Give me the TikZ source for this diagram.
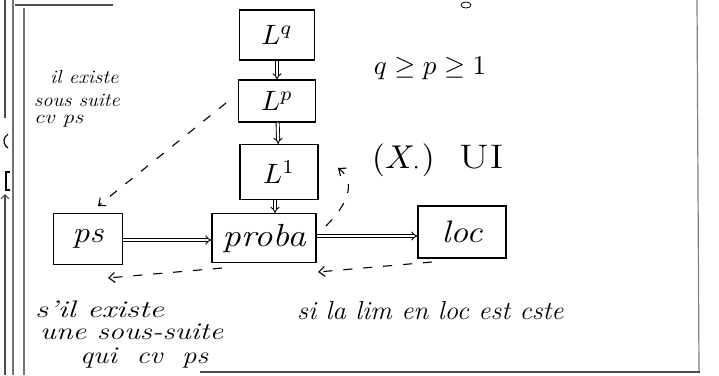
\documentclass[tikz,border=0pt]{standalone}
\usepackage{graphicx}
\usepackage{fontspec}
\usetikzlibrary{arrows.meta}
\newcommand{\wide}[2]{\scalebox{#1}[1]{#2}}
\tikzset{
  box/.style={draw, line width=1.1pt, inner sep=0pt},
  imp/.style={double, double distance=2.2pt, line width=0.9pt, -{Implies}},
  dasharr/.style={dashed, dash pattern=on 9pt off 11pt, line width=1.1pt, -{Straight Barb[length=6pt,width=10pt]}},
  hand/.style={font=\itshape\fontsize{24}{26}\selectfont, inner sep=0pt, anchor=west},
  handsmall/.style={font=\itshape\fontsize{19}{21}\selectfont, inner sep=0pt, anchor=west},
  frame/.style={line width=1.2pt, black!70},
}
\begin{document}
\begin{tikzpicture}[x=1pt,y=-1pt]
\useasboundingbox (0,0) rectangle (719,375);
% frame lines (scan borders)
\draw[frame, line width=2pt, black!55] (13,0) -- (13,375);
\draw[frame, line width=2pt, black!55] (24,8) -- (24,375);
\draw[frame] (5,0) -- (5,118);
\draw[frame] (15,5) -- (113,5);
\draw[frame, -{Straight Barb[length=4pt]}] (5,375) -- (5,194);
\draw[frame, black] (8,148) arc[start angle=-60, end angle=60, radius=-8];
\draw[frame, black] (10,172) -- (6,172) -- (6,190) -- (10,190);
\draw[frame, black!50] (697,0) -- (699,372);
\draw[frame] (200,372) -- (700,372);
\draw[line width=0.8pt] (466,5) ellipse[x radius=5, y radius=3];
% boxes
\node[box, minimum width=75, minimum height=50] (Lq) at (277,35) {\scalebox{2.8}{$L^q$}};
\node[box, minimum width=77, minimum height=42] (Lp) at (277,101) {\scalebox{2.8}{$L^p$}};
\node[box, minimum width=78, minimum height=55] (L1) at (279,172) {\scalebox{2.8}{$L^1$}};
\node[box, minimum width=104, minimum height=49] (proba) at (264,238) {\itshape\fontsize{32}{32}\selectfont\wide{1.15}{proba}};
\node[box, minimum width=69, minimum height=51] (ps) at (88,239) {\itshape\fontsize{30}{30}\selectfont\wide{1.15}{ps}};
\node[box, minimum width=88, minimum height=52] (loc) at (462,232) {\itshape\fontsize{31}{31}\selectfont\wide{1.15}{loc}};
% solid arrows
\draw[imp] (Lq) -- (Lp);
\draw[imp] (Lp) -- (L1);
\draw[imp] (L1.south) ++(-4,0) coordinate (l1s) -- (l1s |- proba.north);
\draw[imp] (ps.east) ++(0,1) coordinate (pse) -- (pse -| proba.west);
\draw[imp] (proba.east) ++(0,-2) coordinate (pbe) -- (pbe -| loc.west);
% dashed arrows
\coordinate (lpw) at (226,103);
\coordinate (pst) at (98,206);
\draw[dasharr] (lpw) -- (pst);
\coordinate (pbl) at (222,268);
\coordinate (psb) at (108,278);
\draw[dasharr] (pbl) -- (psb);
\coordinate (lcb) at (432,262);
\coordinate (pbr) at (318,272);
\draw[dasharr] (lcb) -- (pbr);
\coordinate (pbt) at (326,226);
\coordinate (l1r) at (338,168);
\draw[dasharr] (pbt) .. controls (352,200) and (354,180) .. (l1r);
% labels
\node[handsmall] (t1) at (50,77) {\wide{1.1}{il existe}};
\node[handsmall] (t2) at (34,100) {\wide{1.08}{sous suite}};
\node[handsmall] (t3) at (34,121) {\wide{1.2}{cv ps}};
\node[inner sep=0pt] (cond) at (430,68) {\scalebox{2.7}{$q\geq p\geq 1$}};
\node[inner sep=0pt, anchor=west] (ui) at (372,160) {\scalebox{3.3}{$(X_{\cdot})$}\hspace{24pt}\fontsize{34}{34}\selectfont\wide{1.3}{UI}};
\node[hand] (s1) at (35,309) {\wide{1.35}{s'il existe}};
\node[hand] (s2) at (40,332) {\wide{1.26}{une sous-suite}};
\node[hand] (s3) at (80,358) {\wide{1.2}{qui\hspace{8pt} cv\hspace{8pt} ps}};
\node[hand, font=\itshape\fontsize{26}{28}\selectfont] (s4) at (297,311) {\wide{1.04}{si la lim en loc est cste}};
\end{tikzpicture}
\end{document}
